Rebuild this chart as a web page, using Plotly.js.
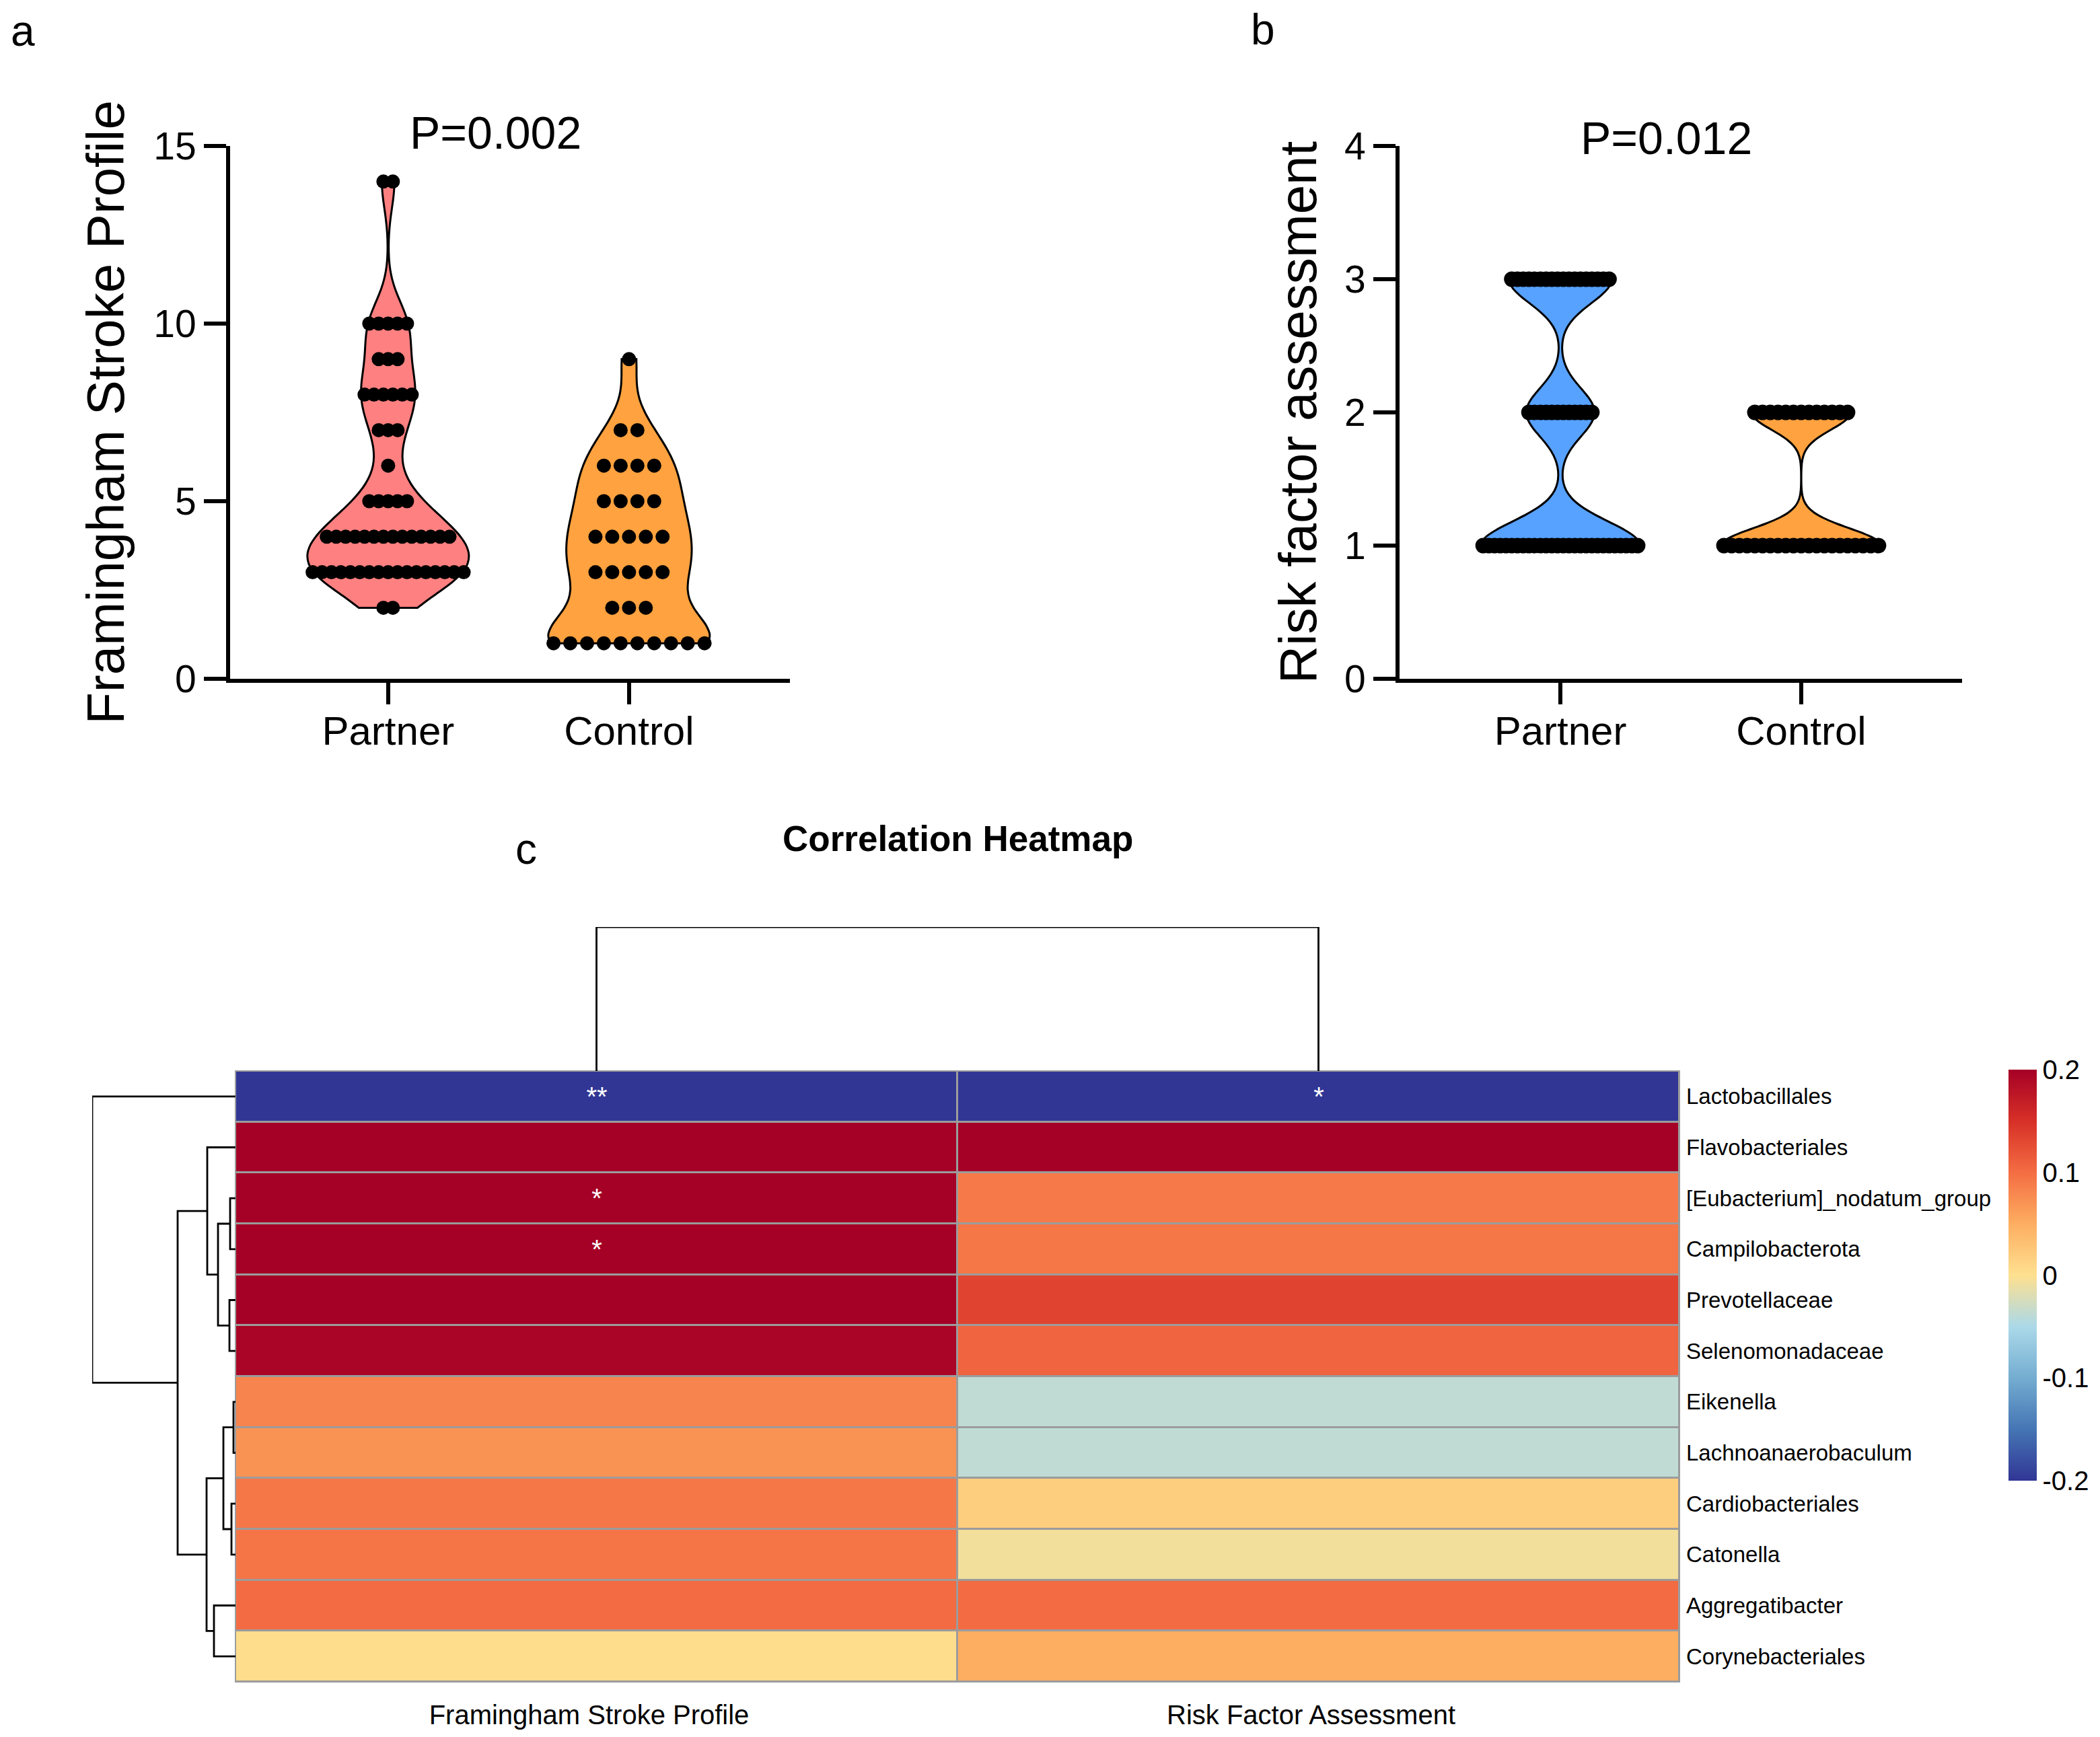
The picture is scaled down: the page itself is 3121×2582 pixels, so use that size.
<!DOCTYPE html>
<html>
<head>
<meta charset="utf-8">
<script src="https://cdn.plot.ly/plotly-3.0.1.min.js"></script>
<style>html,body{margin:0;padding:0;background:#fff;}#chart{width:3121px;height:2582px;}</style>
</head>
<body>
<div id="chart"></div>
<script>
// ---------------- DATA ----------------
const groups = ['Partner', 'Control'];

// Panel a: Framingham Stroke Profile (score levels and number of subjects at each level)
const fspPartnerValues = [2, 3, 4, 5, 6, 7, 8, 9, 10, 14];
const fspPartnerCounts = [2, 17, 14, 5, 1, 3, 6, 3, 5, 2];
const fspControlValues = [1, 2, 3, 4, 5, 6, 7, 9];
const fspControlCounts = [10, 3, 5, 5, 4, 4, 2, 1];
const fspPValue = 'P=0.002';

// Panel b: Risk factor assessment
const rfaPartnerValues = [1, 2, 3];
const rfaPartnerCounts = [28, 12, 18];
const rfaControlValues = [1, 2];
const rfaControlCounts = [21, 13];
const rfaPValue = 'P=0.012';

// Panel c: correlation heatmap
const taxa = ['Lactobacillales', 'Flavobacteriales', '[Eubacterium]_nodatum_group', 'Campilobacterota',
  'Prevotellaceae', 'Selenomonadaceae', 'Eikenella', 'Lachnoanaerobaculum', 'Cardiobacteriales',
  'Catonella', 'Aggregatibacter', 'Corynebacteriales'];
const clinicalScores = ['Framingham Stroke Profile', 'Risk Factor Assessment'];
const corrFSP = [-0.24, 0.23, 0.24, 0.23, 0.22, 0.195, 0.082, 0.071, 0.092, 0.094, 0.102, 0.003];
const corrRFA = [-0.22, 0.21, 0.090, 0.093, 0.134, 0.107, -0.038, -0.038, 0.018, -0.007, 0.102, 0.050];
const sigFSP = ['**', '', '*', '*', '', '', '', '', '', '', '', ''];
const sigRFA = ['*', '', '', '', '', '', '', '', '', '', '', ''];
const corrColors = ['#313695', '#4575B4', '#74ADD1', '#ABD9E9', '#FEE090', '#FDAE61', '#F46D43', '#D73027', '#A50026'];
const colorbarTicks = [-0.2, -0.1, 0, 0.1, 0.2];

// Row dendrogram (hclust style merges: negative = leaf in display order, positive = earlier merge)
const rowMergeA = [-3, -5, 1, -2, -7, -9, 5, -11, 7, 4, -1];
const rowMergeB = [-4, -6, 2, 3, -8, -10, 6, -12, 8, 9, 10];
const rowMergeHeight = [0.08, 0.09, 0.26, 0.42, 0.03, 0.06, 0.18, 0.32, 0.43, 0.86, 2.13];
// Column dendrogram
const colMergeA = [-1];
const colMergeB = [-2];
const colMergeHeight = [0.5];

// ---------------- HELPERS ----------------
const W = 3121, H = 2582;
const px = p => p / W;
const py = p => 1 - p / H;
const FONT = 'Arial, "Liberation Sans", Helvetica, sans-serif';

function expand(values, counts) {
  const out = [];
  values.forEach((v, i) => { for (let k = 0; k < counts[i]; k++) out.push(v); });
  return out;
}
function dotPositions(values, counts, center, spread) {
  const maxN = Math.max(...counts);
  const step = spread / (maxN - 1);
  const xs = [], ys = [];
  values.forEach((v, i) => {
    const n = counts[i];
    for (let j = 0; j < n; j++) { xs.push(center + (j - (n - 1) / 2) * step); ys.push(v); }
  });
  return {xs, ys};
}
function dendro(A, B, Hs) {
  const pos = [], hh = [], P = [], Q = [];
  const node = v => v < 0 ? {p: -v - 1, h: 0} : {p: pos[v - 1], h: hh[v - 1]};
  for (let k = 0; k < A.length; k++) {
    const a = node(A[k]), b = node(B[k]), h = Hs[k];
    P.push(a.p, a.p, b.p, b.p, null);
    Q.push(a.h, h, h, b.h, null);
    pos.push((a.p + b.p) / 2); hh.push(h);
  }
  return {P, Q, max: Math.max(...Hs)};
}

// ---------------- TRACES ----------------
const traces = [];
function violin(vals, counts, pos, color, bw, w, xa, ya) {
  return {type: 'violin', x0: pos, y: expand(vals, counts), xaxis: xa, yaxis: ya,
    fillcolor: color, line: {color: 'black', width: 3}, opacity: 1,
    width: w, scalemode: 'width', spanmode: 'hard', bandwidth: bw,
    points: false, box: {visible: false}, meanline: {visible: false},
    hoverinfo: 'skip', showlegend: false};
}
function dots(vals, counts, pos, spread, size, xa, ya) {
  const d = dotPositions(vals, counts, pos, spread);
  return {type: 'scatter', mode: 'markers', x: d.xs, y: d.ys, xaxis: xa, yaxis: ya,
    marker: {color: 'black', size: size, line: {width: 0}}, hoverinfo: 'skip', showlegend: false, cliponaxis: false};
}
traces.push(violin(fspPartnerValues, fspPartnerCounts, 0, '#FF8080', 0.75, 0.67, 'x', 'y'));
traces.push(violin(fspControlValues, fspControlCounts, 1, '#FFA23F', 0.75, 0.67, 'x', 'y'));
traces.push(dots(fspPartnerValues, fspPartnerCounts, 0, 0.627, 21, 'x', 'y'));
traces.push(dots(fspControlValues, fspControlCounts, 1, 0.627, 21, 'x', 'y'));

traces.push(violin(rfaPartnerValues, rfaPartnerCounts, 0, '#57A1FF', 0.18, 0.66, 'x2', 'y2'));
traces.push(violin(rfaControlValues, rfaControlCounts, 1, '#FFA23F', 0.13, 0.66, 'x2', 'y2'));
traces.push(dots(rfaPartnerValues, rfaPartnerCounts, 0, 0.642, 23, 'x2', 'y2'));
traces.push(dots(rfaControlValues, rfaControlCounts, 1, 0.642, 23, 'x2', 'y2'));

const z = taxa.map((_, i) => [corrFSP[i], corrRFA[i]]);
const sig = taxa.map((_, i) => [sigFSP[i], sigRFA[i]]);
const colorscale = corrColors.map((c, i) => [i / (corrColors.length - 1), c]);
traces.push({type: 'heatmap', x: clinicalScores, y: taxa, z: z, text: sig, texttemplate: '%{text}',
  textfont: {color: 'white', size: 40, family: FONT},
  xaxis: 'x3', yaxis: 'y3', zmin: -0.2, zmax: 0.2, colorscale: colorscale,
  xgap: 3, ygap: 3, hoverinfo: 'skip',
  colorbar: {x: px(2985), xanchor: 'left', y: py(1590), yanchor: 'top', len: 611, lenmode: 'pixels',
    thickness: 42, thicknessmode: 'pixels', outlinewidth: 0, xpad: 0, ypad: 0,
    tickvals: colorbarTicks, ticktext: colorbarTicks.map(String), ticks: '',
    tickfont: {size: 40, color: 'black', family: FONT}}});

const rd = dendro(rowMergeA, rowMergeB, rowMergeHeight);
traces.push({type: 'scatter', mode: 'lines', x: rd.Q, y: rd.P, xaxis: 'x4', yaxis: 'y4',
  line: {color: 'black', width: 2.8}, hoverinfo: 'skip', showlegend: false, cliponaxis: false});
const cd = dendro(colMergeA, colMergeB, colMergeHeight);
traces.push({type: 'scatter', mode: 'lines', x: cd.P, y: cd.Q, xaxis: 'x5', yaxis: 'y5',
  line: {color: 'black', width: 2.8}, hoverinfo: 'skip', showlegend: false, cliponaxis: false});

// ---------------- LAYOUT ----------------
function catAxis(d0, d1, r) {
  return {domain: [px(d0), px(d1)], range: r, tickvals: [0, 1], ticktext: groups,
    showline: true, linewidth: 6, linecolor: 'black', ticks: 'outside', ticklen: 32, tickwidth: 6,
    tickcolor: 'black', tickfont: {size: 60, color: 'black', family: FONT}, ticklabelstandoff: -12,
    showgrid: false, zeroline: false, fixedrange: true};
}
function valAxis(r, tv, title, standoff) {
  return {domain: [py(1009), py(217)], range: r, tickvals: tv,
    showline: true, linewidth: 6, linecolor: 'black', ticks: 'outside', ticklen: 33, tickwidth: 6,
    tickcolor: 'black', tickfont: {size: 57, color: 'black', family: FONT},
    title: {text: title, font: {size: 78, color: 'black', family: FONT}, standoff: standoff},
    showgrid: false, zeroline: false, fixedrange: true};
}
const hidden = (dom, r) => ({domain: dom, range: r, visible: false, showgrid: false, zeroline: false, fixedrange: true});

const layout = {
  width: W, height: H, margin: {l: 0, r: 0, t: 0, b: 0},
  paper_bgcolor: 'white', plot_bgcolor: 'rgba(0,0,0,0)',
  font: {family: FONT, color: 'black'},
  violinmode: 'overlay', showlegend: false,
  xaxis: catAxis(342, 1174, [-0.656, 1.668]),
  yaxis: valAxis([0, 15], [0, 5, 10, 15], 'Framingham Stroke Profile', 20),
  xaxis2: Object.assign(catAxis(2080, 2916, [-0.668, 1.668]), {anchor: 'y2'}),
  yaxis2: Object.assign(valAxis([0, 4], [0, 1, 2, 3, 4], 'Risk factor assessment', 18), {anchor: 'x2'}),
  xaxis3: {domain: [px(350), px(2496)], anchor: 'y3', type: 'category', range: [-0.5, 1.5],
    showline: false, ticks: '', showgrid: false, zeroline: false, ticklabelstandoff: 22, ticklabelshift: -11,
    tickfont: {size: 40, color: 'black', family: FONT}, fixedrange: true},
  yaxis3: {domain: [py(2500), py(1592)], anchor: 'x3', type: 'category', range: [11.5, -0.5],
    side: 'right', showline: false, ticks: '', showgrid: false, zeroline: false, ticklabelstandoff: 9,
    tickfont: {size: 33, color: 'black', family: FONT}, fixedrange: true},
  xaxis4: Object.assign(hidden([px(137), px(350)], [rd.max, 0]), {anchor: 'y4'}),
  yaxis4: Object.assign(hidden([py(2500), py(1592)], [11.5, -0.5]), {anchor: 'x4'}),
  xaxis5: Object.assign(hidden([px(350), px(2496)], [-0.5, 1.5]), {anchor: 'y5'}),
  yaxis5: Object.assign(hidden([py(1592), py(1378)], [0, cd.max]), {anchor: 'x5'}),
  shapes: [
    {type: 'rect', xref: 'paper', yref: 'paper', x0: px(349), x1: px(2497), y0: py(2501), y1: py(1591),
      fillcolor: '#9C9C9C', line: {width: 0}, layer: 'below'}
  ],
  annotations: [
    {text: 'a', xref: 'paper', yref: 'paper', x: px(34), y: py(46), xanchor: 'center', yanchor: 'middle', showarrow: false, font: {size: 64}},
    {text: 'b', xref: 'paper', yref: 'paper', x: px(1877), y: py(44), xanchor: 'center', yanchor: 'middle', showarrow: false, font: {size: 64}},
    {text: 'c', xref: 'paper', yref: 'paper', x: px(782), y: py(1262), xanchor: 'center', yanchor: 'middle', showarrow: false, font: {size: 64}},
    {text: fspPValue, xref: 'paper', yref: 'paper', x: px(736), y: py(197), xanchor: 'center', yanchor: 'middle', showarrow: false, font: {size: 68}},
    {text: rfaPValue, xref: 'paper', yref: 'paper', x: px(2476), y: py(205), xanchor: 'center', yanchor: 'middle', showarrow: false, font: {size: 68}},
    {text: '<b>Correlation Heatmap</b>', xref: 'paper', yref: 'paper', x: px(1423), y: py(1246), xanchor: 'center', yanchor: 'middle', showarrow: false, font: {size: 53}}
  ]
};

Plotly.newPlot('chart', traces, layout, {staticPlot: true, displayModeBar: false});
</script>
</body>
</html>
